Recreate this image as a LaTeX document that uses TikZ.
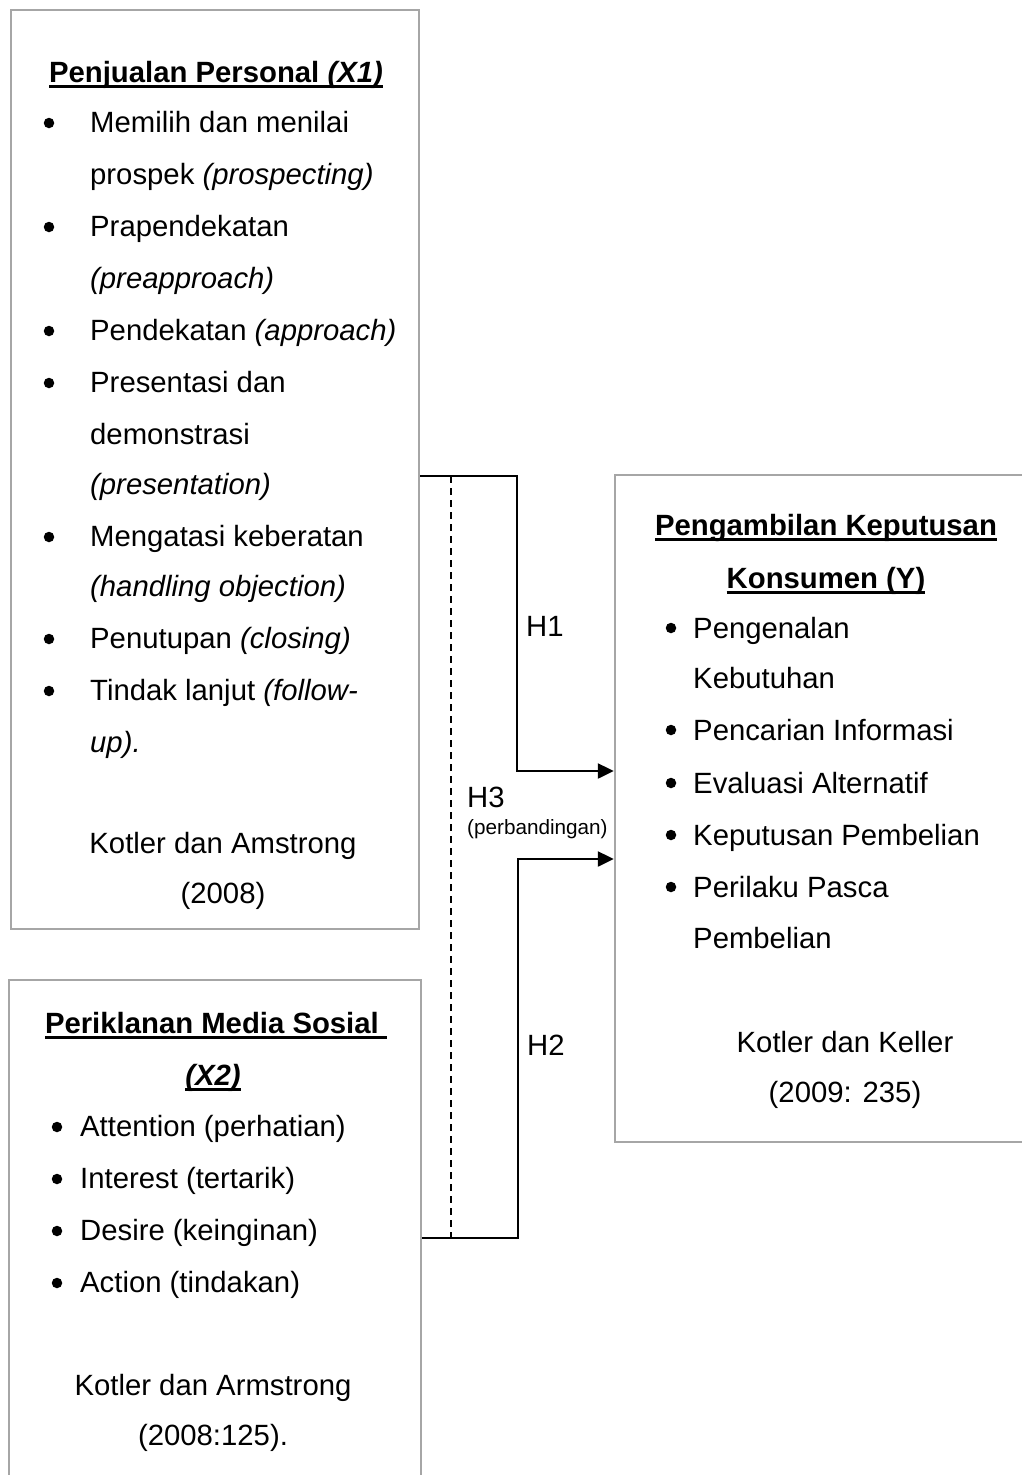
\documentclass[tikz,border=0pt]{standalone}
\usepackage{fontspec}
\setmainfont{Liberation Sans}
\usetikzlibrary{arrows.meta}
\definecolor{boxgray}{HTML}{A6A6A6}
\newcommand\myul[1]{\setbox0=\hbox{#1}\rlap{\rule[-5.5pt]{\wd0}{2.6pt}}\box0}
\begin{document}
\begin{tikzpicture}[x=1pt,y=-1pt,
  box/.style={draw=boxgray,line width=2.5pt,rectangle,inner sep=0pt},
  txt/.style={anchor=base west,inner sep=0pt,font=\fontsize{29.3}{35}\selectfont},
  ctxt/.style={anchor=base,inner sep=0pt,font=\fontsize{29.3}{35}\selectfont},
  bul/.style={circle,fill=black,inner sep=0pt,minimum size=10.5pt},
  small/.style={anchor=base west,inner sep=0pt,font=\fontsize{20.7}{25}\selectfont},
  conn/.style={line width=2.5pt,black},
  arr/.style={conn,-{Triangle[length=16pt,width=15pt]}},
  dashline/.style={line width=1.6pt,black,dash pattern=on 7pt off 5pt},
]
\clip (0,0) rectangle (1022,1475);
% boxes
\node[box,minimum width=408pt,minimum height=919pt] (b1) at (215,469.5) {};
\node[box,minimum width=412pt,minimum height=520pt] (b2) at (215,1240) {};
\node[box,minimum width=420pt,minimum height=667pt] (b3) at (825,808.5) {};

% box 1 content
\node[ctxt] (t1) at (216,82) {\bfseries\myul{Penjualan Personal \itshape(X1)}};
\node[bul] (u1) at (49,123) {};
\node[txt] (a1) at (90,132) {Memilih dan menilai};
\node[txt] (a2) at (90,184) {prospek \textit{(prospecting)}};
\node[bul] (u2) at (49,227) {};
\node[txt] (a3) at (90,236) {Prapendekatan};
\node[txt] (a4) at (90,288) {\itshape(preapproach)};
\node[bul] (u3) at (49,331) {};
\node[txt] (a5) at (90,340) {Pendekatan \textit{(approach)}};
\node[bul] (u4) at (49,383) {};
\node[txt] (a6) at (90,392) {Presentasi dan};
\node[txt] (a7) at (90,444) {demonstrasi};
\node[txt] (a8) at (90,494) {\itshape(presentation)};
\node[bul] (u5) at (49,537) {};
\node[txt] (a9) at (90,546) {Mengatasi keberatan};
\node[txt] (a10) at (90,596) {\itshape(handling objection)};
\node[bul] (u6) at (49,639) {};
\node[txt] (a11) at (90,648) {Penutupan \textit{(closing)}};
\node[bul] (u7) at (49,691) {};
\node[txt] (a12) at (90,700) {Tindak lanjut \textit{(follow-}};
\node[txt] (a13) at (90,752) {\itshape up).};
\node[ctxt] (c1) at (223,853) {Kotler dan Amstrong};
\node[ctxt] (c2) at (223,903) {(2008)};

% box 2 content
\node[ctxt] (t2) at (216,1033) {\bfseries\myul{Periklanan Media Sosial\ }};
\node[ctxt] (t3) at (213,1085) {\bfseries\itshape\myul{(X2)}};
\node[bul] (v1) at (57,1127) {};
\node[txt] (d1) at (80,1136) {Attention (perhatian)};
\node[bul] (v2) at (57,1179) {};
\node[txt] (d2) at (80,1188) {Interest (tertarik)};
\node[bul] (v3) at (57,1231) {};
\node[txt] (d3) at (80,1240) {Desire (keinginan)};
\node[bul] (v4) at (57,1283) {};
\node[txt] (d4) at (80,1292) {Action (tindakan)};
\node[ctxt] (c3) at (213,1395) {Kotler dan Armstrong};
\node[ctxt] (c4) at (213,1445) {(2008:125).};

% box 3 content
\node[ctxt] (t4) at (826,535) {\bfseries\myul{Pengambilan Keputusan}};
\node[ctxt] (t5) at (826,588) {\bfseries\myul{Konsumen (Y)}};
\node[bul] (w1) at (671,628) {};
\node[txt] (e1) at (693,638) {Pengenalan};
\node[txt] (e2) at (693,688) {Kebutuhan};
\node[bul] (w2) at (671,730) {};
\node[txt] (e3) at (693,740) {Pencarian Informasi};
\node[bul] (w3) at (671,783) {};
\node[txt] (e4) at (693,793) {Evaluasi Alternatif};
\node[bul] (w4) at (671,835) {};
\node[txt] (e5) at (693,845) {Keputusan Pembelian};
\node[bul] (w5) at (671,887) {};
\node[txt] (e6) at (693,897) {Perilaku Pasca};
\node[txt] (e7) at (693,948) {Pembelian};
\node[ctxt] (c5) at (845,1052) {Kotler dan Keller};
\node[ctxt] (c6) at (845,1102) {(2009: 235)};

% connectors
\coordinate (h1a) at (b1.east |- 0,476);
\coordinate (h1b) at (517,771);
\coordinate (h2a) at (b2.east |- 0,1238);
\coordinate (h2b) at (518,859);
\coordinate (d1a) at (451,476);
\coordinate (d1b) at (451,1238);
\draw[dashline] (d1a) -- (d1b);
\draw[arr] (h1a) -| (h1b) -- (b3.west |- h1b);
\draw[arr] (h2a) -| (h2b) -- (b3.west |- h2b);

% labels
\node[txt] (l1) at (526,636) {H1};
\node[txt] (l2) at (527,1055) {H2};
\node[txt] (l3) at (467,807) {H3};
\node[small] (l4) at (467,834) {(perbandingan)};
\end{tikzpicture}
\end{document}
